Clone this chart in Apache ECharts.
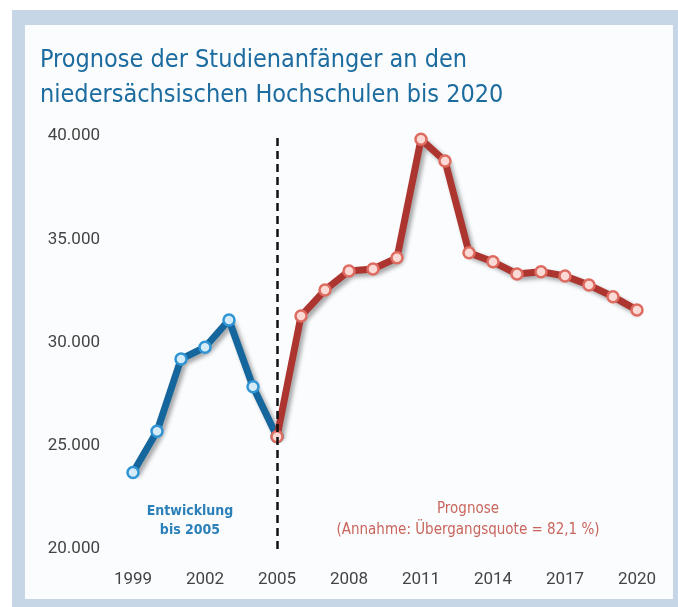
<!DOCTYPE html>
<html>
<head>
<meta charset="utf-8">
<script src="https://cdn.jsdelivr.net/npm/echarts@6/dist/echarts.min.js"></script>
<style>
  body { margin: 0; background: #fff; }
  #wrap { position: relative; width: 678px; height: 607px; overflow: hidden; }
  #frame { position: absolute; left: 12px; top: 10px; width: 666px; height: 597px; background: #c6d6e6; }
  #panel { position: absolute; left: 25px; top: 25px; width: 648px; height: 574px; background: #fbfcfe; }
  #chart { position: absolute; left: 0; top: 0; width: 678px; height: 607px; }
</style>
</head>
<body>
<div id="wrap">
  <div id="frame"></div>
  <div id="panel"></div>
  <div id="chart"></div>
</div>
<script>
// Jahre 1999 bis 2020
var years = ['1999','2000','2001','2002','2003','2004','2005','2006','2007','2008','2009',
             '2010','2011','2012','2013','2014','2015','2016','2017','2018','2019','2020'];
// Entwicklung bis 2005 (1999-2005)
var historyValues = [23700, 25700, 29200, 29770, 31090, 27860, 25440];
// Prognose (2005-2020)
var forecastValues = [25440, 31280, 32540, 33460, 33560, 34100, 39840, 38790,
                      34350, 33910, 33320, 33430, 33220, 32780, 32220, 31570];
var splitYear = '2005';

var historyData = years.map(function (y, i) {
  return i < historyValues.length ? historyValues[i] : null;
});
var offset = years.indexOf(splitYear);
var forecastData = years.map(function (y, i) {
  return i >= offset ? forecastValues[i - offset] : null;
});

var narrowFont = '"Liberation Sans Narrow", "DejaVu Sans Condensed", sans-serif';

var chartDom = document.getElementById('chart');
var myChart = echarts.init(chartDom);
var option;

option = {
  animation: false,
  title: {
    text: 'Prognose der Studienanfänger an den\nniedersächsischen Hochschulen bis 2020',
    left: 35,
    top: 38,
    textStyle: {
      fontFamily: narrowFont,
      fontSize: 25,
      fontWeight: 'normal',
      color: '#1c6c9f',
      lineHeight: 35
    }
  },
  grid: {
    left: 133,
    right: 41,
    top: 136,
    bottom: 58
  },
  xAxis: {
    type: 'category',
    boundaryGap: false,
    data: years,
    axisLine: { show: false },
    axisTick: { show: false },
    axisLabel: {
      interval: 2,
      margin: 22,
      fontFamily: 'Roboto, sans-serif',
      fontSize: 17,
      color: '#444'
    }
  },
  yAxis: {
    type: 'value',
    min: 20000,
    max: 40000,
    interval: 5000,
    splitLine: { show: false },
    axisLine: { show: false },
    axisTick: { show: false },
    axisLabel: {
      margin: 33,
      fontFamily: 'Roboto, sans-serif',
      fontSize: 17,
      color: '#444',
      formatter: function (v) {
        return String(v).replace(/\B(?=(\d{3})+(?!\d))/g, '.');
      }
    }
  },
  graphic: [
    {
      type: 'text',
      x: 190,
      y: 511,
      style: {
        text: 'Entwicklung',
        align: 'center',
        verticalAlign: 'middle',
        font: '600 14px ' + narrowFont,
        fill: '#2b80b9'
      }
    },
    {
      type: 'text',
      x: 190,
      y: 530,
      style: {
        text: 'bis 2005',
        align: 'center',
        verticalAlign: 'middle',
        font: '600 14px ' + narrowFont,
        fill: '#2b80b9'
      }
    },
    {
      type: 'text',
      x: 468,
      y: 509,
      style: {
        text: 'Prognose',
        align: 'center',
        verticalAlign: 'middle',
        font: '15px ' + narrowFont,
        fill: '#c8655c'
      }
    },
    {
      type: 'text',
      x: 468,
      y: 530,
      style: {
        text: '(Annahme: Übergangsquote = 82,1 %)',
        align: 'center',
        verticalAlign: 'middle',
        font: '15px ' + narrowFont,
        fill: '#c8655c'
      }
    }
  ],
  series: [
    {
      name: 'Entwicklung',
      type: 'line',
      data: historyData,
      symbol: 'circle',
      symbolSize: 11,
      lineStyle: {
        width: 7,
        color: '#15669c',
        shadowColor: 'rgba(0,0,0,0.35)',
        shadowBlur: 4,
        shadowOffsetX: 3,
        shadowOffsetY: 3
      },
      itemStyle: {
        color: '#d6ebf8',
        borderColor: '#2e94d4',
        borderWidth: 2.5
      },
      markLine: {
        silent: true,
        symbol: 'none',
        label: { show: false },
        lineStyle: {
          color: '#111',
          width: 2.5,
          type: [8, 5]
        },
        data: [{ xAxis: splitYear }]
      },
      z: 3
    },
    {
      name: 'Prognose',
      type: 'line',
      data: forecastData,
      symbol: 'circle',
      symbolSize: 11,
      lineStyle: {
        width: 7,
        color: '#ad3530',
        shadowColor: 'rgba(0,0,0,0.35)',
        shadowBlur: 4,
        shadowOffsetX: 3,
        shadowOffsetY: 3
      },
      itemStyle: {
        color: '#fbd9d4',
        borderColor: '#de6b60',
        borderWidth: 2.5
      },
      z: 4
    }
  ]
};

option && myChart.setOption(option);
</script>
</body>
</html>
